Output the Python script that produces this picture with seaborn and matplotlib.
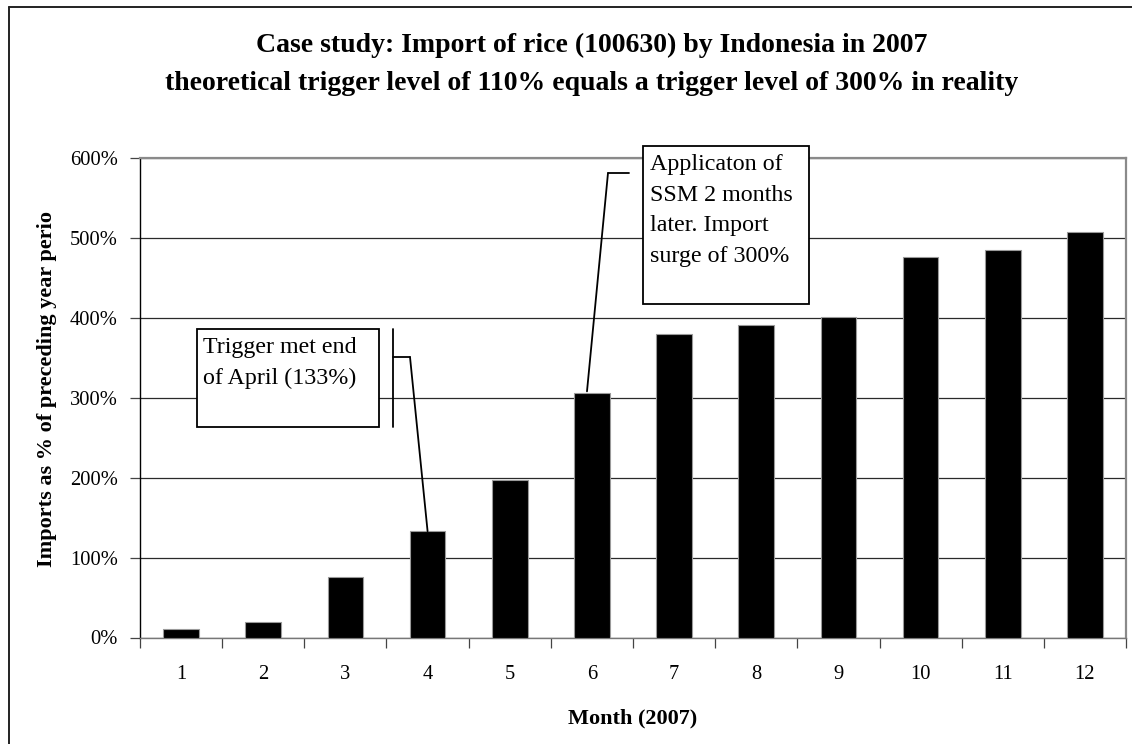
import matplotlib
matplotlib.use("Agg")
import matplotlib.pyplot as plt
from matplotlib.lines import Line2D
from matplotlib.patches import Rectangle, ConnectionPatch
from matplotlib.ticker import FuncFormatter, FixedLocator
import seaborn as sns
import pandas as pd

# Monthly imports of rice, as % of the same period of the preceding year
months = ["1", "2", "3", "4", "5", "6", "7", "8", "9", "10", "11", "12"]
import_pct = [11, 20, 76, 133, 197, 306, 380, 391, 401, 476, 485, 508]
y_ticks = [0, 100, 200, 300, 400, 500, 600]

title_lines = [
    "Case study: Import of rice (100630) by Indonesia in 2007",
    "theoretical trigger level of 110% equals a trigger level of 300% in reality",
]
x_label = "Month (2007)"
y_label = "Imports as % of preceding year perio"
callout_trigger = "Trigger met end\nof April (133%)"
callout_ssm = "Applicaton of\nSSM 2 months\nlater. Import\nsurge of 300%"

sns.set_theme(style="white")
plt.rcParams["font.family"] = ["Liberation Serif", "DejaVu Serif"]
plt.rcParams["text.color"] = "black"

W, H = 1132, 744
fig = plt.figure(figsize=(W / 100, H / 100), dpi=100)


def fx(px):
    return px / W


def fy(py):
    return 1 - py / H


ax = fig.add_axes([fx(140), fy(637.5), fx(1126) - fx(140), fy(158) - fy(637.5)])

df = pd.DataFrame({"month": months, "pct": import_pct})
sns.barplot(data=df, x="month", y="pct", color="black", saturation=1,
            width=0.435, edgecolor="#9a9a9a", linewidth=0.8, ax=ax, zorder=3)

ax.set_xlim(-0.5, len(months) - 0.5)
ax.set_ylim(y_ticks[0], y_ticks[-1])
ax.set_yticks(y_ticks)
ax.yaxis.set_major_formatter(FuncFormatter(lambda v, _: f"{v:.0f}%"))
ax.grid(axis="y", color="#2a2a2a", linewidth=0.9, zorder=0)
ax.grid(axis="x", visible=False)
ax.set_axisbelow(True)

# Tick marks sit between the month categories
ax.xaxis.set_minor_locator(FixedLocator([i - 0.5 for i in range(len(months) + 1)]))
ax.tick_params(axis="x", which="major", length=0, pad=20, labelsize=14.8,
               labelcolor="black")
ax.tick_params(axis="x", which="minor", length=7, width=0.9, color="#444444",
               direction="out", bottom=True)
ax.tick_params(axis="y", which="major", length=7, width=0.9, color="#444444",
               direction="out", left=True, pad=9, labelsize=14.8,
               labelcolor="black")

for side in ("top", "right"):
    ax.spines[side].set_color("#8a8a8a")
    ax.spines[side].set_linewidth(1.6)
ax.spines["left"].set_color("black")
ax.spines["left"].set_linewidth(1.0)
ax.spines["bottom"].set_color("#777777")
ax.spines["bottom"].set_linewidth(1.0)

ax.set_xlabel("")
ax.set_ylabel("")

# Titles and axis labels
fig.text(fx(592), fy(45), title_lines[0], ha="center", va="center",
         fontsize=20, fontweight="bold")
fig.text(fx(592), fy(83), title_lines[1], ha="center", va="center",
         fontsize=20, fontweight="bold")
fig.text(fx(633), fy(718), x_label, ha="center", va="center",
         fontsize=16, fontweight="bold")
fig.text(fx(47), fy(389), y_label, ha="center", va="center", rotation=90,
         fontsize=16, fontweight="bold")

# Chart-area frame
fig.add_artist(Line2D([fx(9), fx(9)], [fy(7), 0], color="#222222", lw=1.4))
fig.add_artist(Line2D([fx(9), 1], [fy(7), fy(7)], color="#222222", lw=1.4))


def box(x0, y0, x1, y1):
    fig.add_artist(Rectangle((fx(x0), fy(y1)), fx(x1) - fx(x0), fy(y0) - fy(y1),
                             transform=fig.transFigure, facecolor="white",
                             edgecolor="black", linewidth=1.3, zorder=5))


def seg(x0, y0, x1, y1):
    fig.add_artist(Line2D([fx(x0), fx(x1)], [fy(y0), fy(y1)], color="black",
                          lw=1.3, zorder=5))


def leader(xy_data, knee_px):
    fig.add_artist(ConnectionPatch(xyA=xy_data, coordsA=ax.transData,
                                   xyB=(fx(knee_px[0]), fy(knee_px[1])),
                                   coordsB=fig.transFigure, color="black",
                                   lw=1.3, zorder=5))


# Callout: trigger met in April
box(197, 329, 379, 427)
fig.text(fx(203), fy(337), callout_trigger, ha="left", va="top",
         fontsize=17.3, linespacing=1.6, zorder=6)
seg(393, 329, 393, 427)
seg(393, 357, 410, 357)
leader((3, import_pct[3]), (410, 357))

# Callout: safeguard applied two months later
box(643, 146, 809, 304)
fig.text(fx(650), fy(154), callout_ssm, ha="left", va="top",
         fontsize=17.3, linespacing=1.6, zorder=6)
seg(629, 173, 608, 173)
leader((5 - 0.06, import_pct[5] + 2), (608, 173))

fig.savefig("out.png", dpi=100, facecolor="white")
